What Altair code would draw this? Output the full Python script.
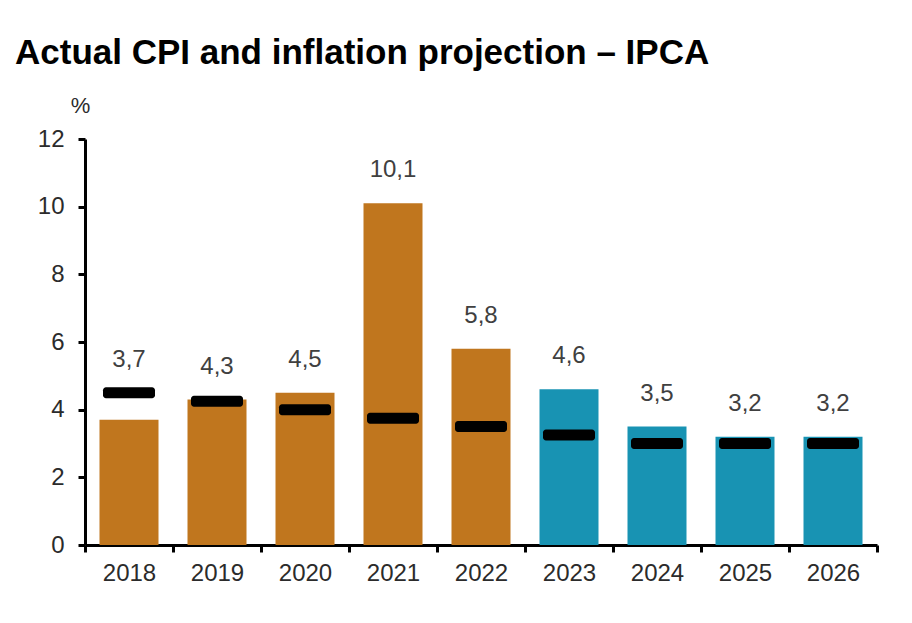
import altair as alt
import pandas as pd

years = ["2018", "2019", "2020", "2021", "2022", "2023", "2024", "2025", "2026"]
cpi = [3.7, 4.3, 4.5, 10.1, 5.8, 4.6, 3.5, 3.2, 3.2]
target = [4.5, 4.25, 4.0, 3.75, 3.5, 3.25, 3.0, 3.0, 3.0]
kind = ["Actual"] * 5 + ["Projection"] * 4

df = pd.DataFrame({"year": years, "cpi": cpi, "target": target, "kind": kind})

FONT = "Liberation Sans"

x = alt.X("year:N", sort=years, title=None,
          scale=alt.Scale(paddingInner=0, paddingOuter=0),
          axis=alt.Axis(labelAngle=0, tickBand="extent", domainColor="black",
                        domainWidth=3, tickColor="black", tickWidth=3, tickSize=7,
                        labelFontSize=24, labelFont=FONT, labelColor="#2b2b2b",
                        labelPadding=9))

base = alt.Chart(df).encode(x=x)

bars = base.mark_bar(size=59).encode(
    y=alt.Y("cpi:Q", scale=alt.Scale(domain=[0, 12]),
            axis=alt.Axis(values=[0, 2, 4, 6, 8, 10, 12], grid=False, title="%",
                          titleAngle=0, titleX=-5, titleY=-34, titleAlign="center",
                          titleBaseline="middle", titleFontSize=22, titleFont=FONT,
                          titleFontWeight="normal", titleColor="#2b2b2b",
                          domainColor="black", domainWidth=3, tickColor="black",
                          tickWidth=3, tickSize=7, labelFontSize=24, labelFont=FONT,
                          labelColor="#2b2b2b", labelPadding=14)),
    color=alt.Color("kind:N", legend=None,
                    scale=alt.Scale(domain=["Actual", "Projection"],
                                    range=["#C0761E", "#1893B3"])),
)

ticks = base.mark_tick(size=52, thickness=11, cornerRadius=3, color="black", opacity=1).encode(
    y=alt.Y("target:Q")
)

labels = base.transform_calculate(
    top="max(datum.cpi, datum.target)",
    lab="replace(format(datum.cpi, '.1f'), '.', ',')",
).mark_text(dy=-33, fontSize=24, font=FONT, color="#404040", baseline="middle").encode(
    y=alt.Y("top:Q"), text="lab:N"
)

chart = alt.layer(bars, ticks, labels).properties(
    width=792, height=406,
    autosize=alt.AutoSizeParams(type="none"),
    padding={"left": 77, "top": 131, "right": 27, "bottom": 70},
    title=alt.TitleParams("Actual CPI and inflation projection – IPCA", anchor="start",
                          frame="group", dx=-70, fontSize=35, font=FONT,
                          fontWeight="bold", color="black", offset=23),
).configure_view(stroke=None)

chart.save("out.html", embed_options={"renderer": "svg", "actions": False})
